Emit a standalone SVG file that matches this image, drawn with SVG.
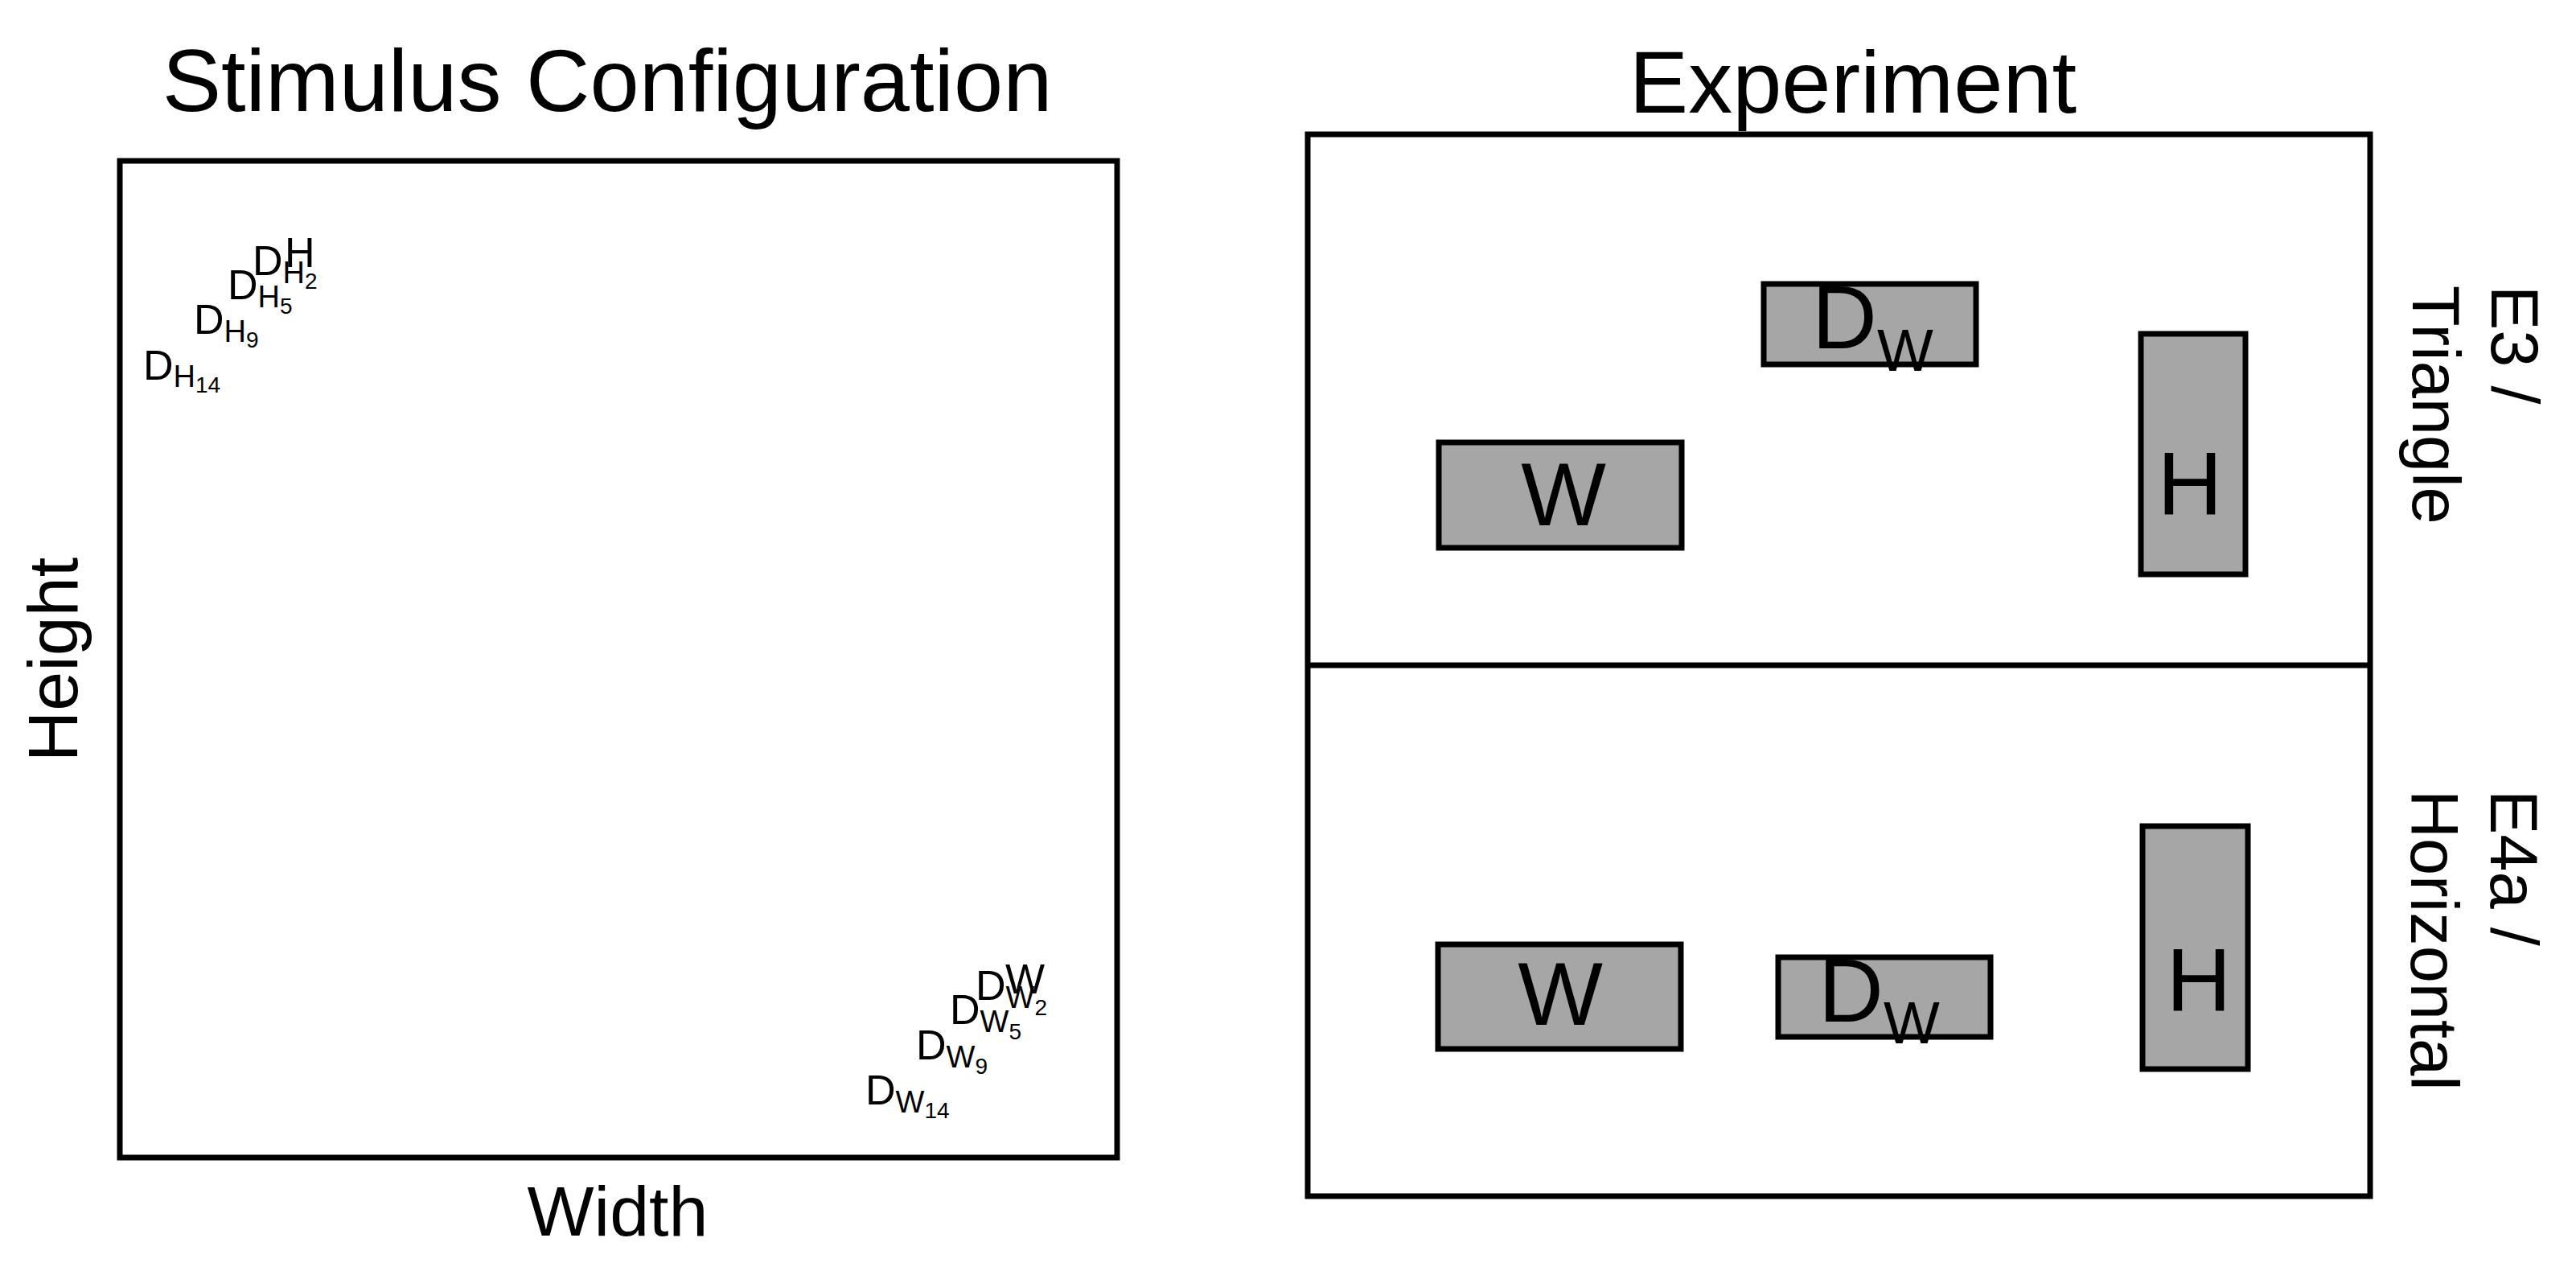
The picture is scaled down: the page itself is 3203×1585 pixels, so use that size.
<svg xmlns="http://www.w3.org/2000/svg" width="3203" height="1585" viewBox="0 0 3203 1585">
<style>
text{font-family:"Liberation Sans",Arial,Helvetica,sans-serif;fill:#000}
.frame{fill:#fff;stroke:#000;stroke-width:7}
.blk{fill:#a6a6a6;stroke:#000;stroke-width:7}
.title{font-size:110px;text-anchor:middle}
.axis{font-size:88px;text-anchor:middle}
.strip{font-size:83px}
.big{font-size:112px}
.sub{font-size:74px}
.pt{font-size:52px}
.ps{font-size:38px}
.pd{font-size:28px}
</style>
<rect width="3203" height="1585" fill="#fff"/>

<g id="stimulus-panel">
  <text class="title" x="755" y="138">Stimulus Configuration</text>
  <rect class="frame" x="149" y="200" width="1240" height="1239"/>
  <text class="axis" transform="translate(96,820) rotate(-90)">Height</text>
  <text class="axis" x="768" y="1536">Width</text>
</g>

<g id="height-points">
  <text class="pt" x="354" y="332">H</text>
  <text class="pt" x="314" y="342">D<tspan class="ps" y="352">H</tspan><tspan class="pd" y="359">2</tspan></text>
  <text class="pt" x="283" y="372">D<tspan class="ps" y="382">H</tspan><tspan class="pd" y="390">5</tspan></text>
  <text class="pt" x="241" y="415">D<tspan class="ps" y="425">H</tspan><tspan class="pd" y="432">9</tspan></text>
  <text class="pt" x="178" y="472">D<tspan class="ps" y="481">H</tspan><tspan class="pd" y="488">14</tspan></text>
</g>

<g id="width-points">
  <text class="pt" x="1250" y="1235">W</text>
  <text class="pt" x="1213" y="1243">D<tspan class="ps" y="1253">W</tspan><tspan class="pd" y="1262">2</tspan></text>
  <text class="pt" x="1181" y="1273">D<tspan class="ps" y="1283">W</tspan><tspan class="pd" y="1292">5</tspan></text>
  <text class="pt" x="1139" y="1317">D<tspan class="ps" y="1327">W</tspan><tspan class="pd" y="1335">9</tspan></text>
  <text class="pt" x="1076" y="1373">D<tspan class="ps" y="1383">W</tspan><tspan class="pd" y="1390">14</tspan></text>
</g>

<g id="experiment-panel">
  <text class="title" x="2304" y="140">Experiment</text>
  <rect class="frame" x="1626" y="167" width="1321" height="1320"/>
</g>

<g id="connectors">
  <line x1="1626" y1="827" x2="2947" y2="827" stroke="#000" stroke-width="7"/>
</g>

<g id="e3-triangle">
  <rect class="blk" x="1789" y="550" width="302" height="131"/>
  <text class="big" x="1944" y="653" text-anchor="middle">W</text>
  <rect class="blk" x="2193" y="353" width="264" height="100"/>
  <text class="big" x="2253" y="433">D<tspan class="sub" y="461">W</tspan></text>
  <rect class="blk" x="2662" y="415" width="130" height="299"/>
  <text class="big" x="2723" y="640" text-anchor="middle">H</text>
  <text class="strip" transform="translate(3098,355) rotate(90)">E3 /</text>
  <text class="strip" transform="translate(3000,355) rotate(90)">Triangle</text>
</g>

<g id="e4a-horizontal">
  <rect class="blk" x="1788" y="1174" width="302" height="130"/>
  <text class="big" x="1940" y="1274" text-anchor="middle">W</text>
  <rect class="blk" x="2211" y="1190" width="264" height="99"/>
  <text class="big" x="2261" y="1270">D<tspan class="sub" y="1297">W</tspan></text>
  <rect class="blk" x="2664" y="1027" width="131" height="302"/>
  <text class="big" x="2734" y="1257" text-anchor="middle">H</text>
  <text class="strip" transform="translate(3097,982) rotate(90)">E4a /</text>
  <text class="strip" transform="translate(2998,982) rotate(90)">Horizontal</text>
</g>
</svg>
